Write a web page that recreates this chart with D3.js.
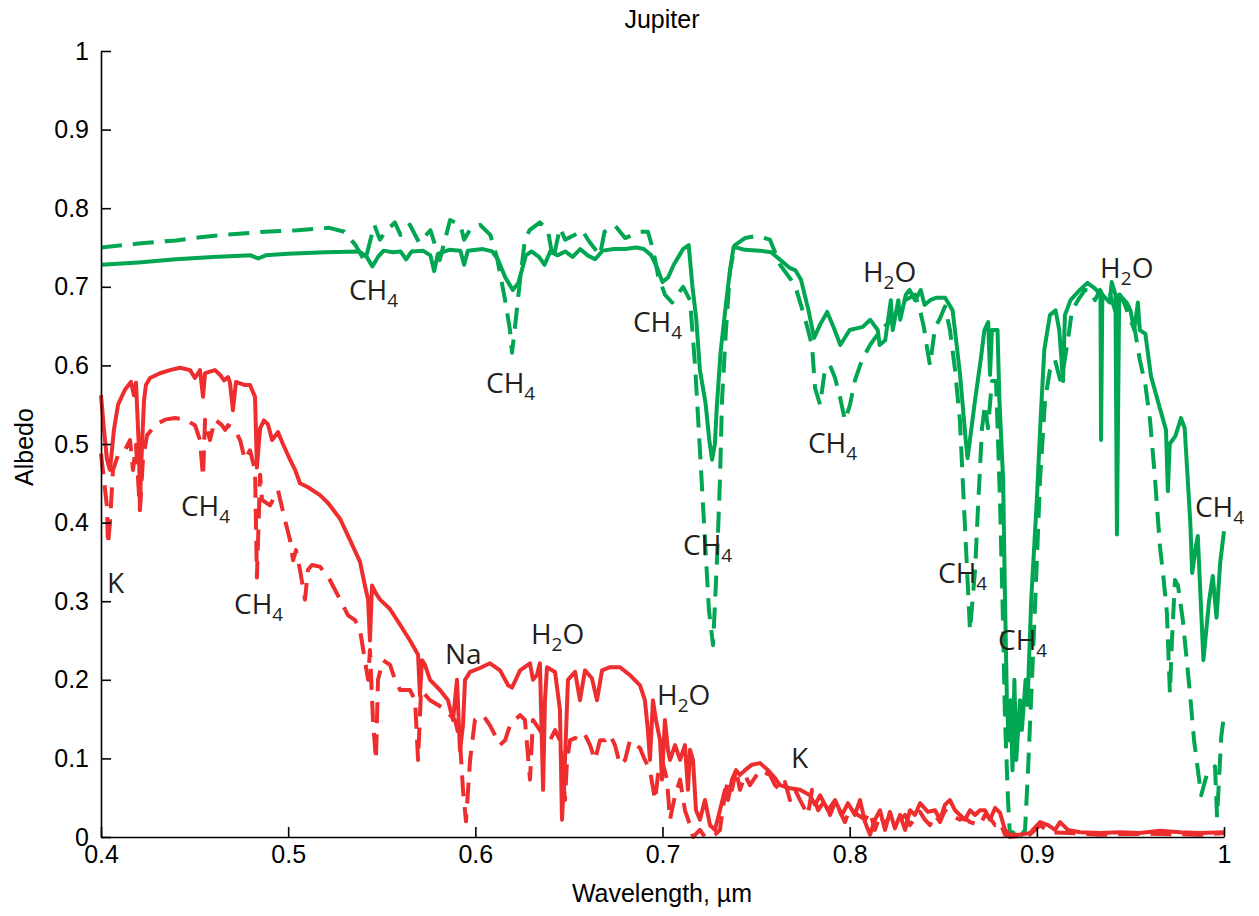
<!DOCTYPE html>
<html><head><meta charset="utf-8">
<script src="https://cdn.jsdelivr.net/npm/d3@7"></script>
<style>body{margin:0;background:#fff}svg{display:block}</style>
</head><body><svg id="c" width="1259" height="916"></svg>
<script>
const xTicks=[0.4,0.5,0.6,0.7,0.8,0.9,1.0];
const yTicks=[0,0.1,0.2,0.3,0.4,0.5,0.6,0.7,0.8,0.9,1];
const greenSolid=[[0.400,0.728],[0.420,0.731],[0.440,0.735],[0.460,0.738],[0.480,0.740],[0.484,0.736],[0.488,0.740],[0.500,0.742],[0.520,0.744],[0.538,0.745],[0.542,0.738],[0.545,0.726],[0.548,0.738],[0.551,0.746],[0.556,0.744],[0.560,0.745],[0.563,0.735],[0.566,0.745],[0.572,0.746],[0.576,0.740],[0.578,0.720],[0.580,0.742],[0.586,0.747],[0.592,0.746],[0.594,0.728],[0.596,0.746],[0.604,0.748],[0.609,0.745],[0.612,0.735],[0.616,0.712],[0.620,0.696],[0.623,0.705],[0.627,0.740],[0.630,0.745],[0.634,0.738],[0.637,0.728],[0.640,0.745],[0.644,0.740],[0.648,0.745],[0.652,0.738],[0.656,0.748],[0.660,0.740],[0.664,0.735],[0.668,0.746],[0.674,0.748],[0.680,0.748],[0.686,0.750],[0.690,0.748],[0.694,0.740],[0.697,0.725],[0.700,0.706],[0.703,0.712],[0.706,0.728],[0.709,0.740],[0.711,0.748],[0.714,0.753],[0.716,0.700],[0.718,0.660],[0.720,0.594],[0.723,0.552],[0.725,0.505],[0.7265,0.480],[0.728,0.500],[0.729,0.547],[0.731,0.616],[0.734,0.680],[0.736,0.720],[0.738,0.751],[0.744,0.747],[0.752,0.746],[0.758,0.744],[0.763,0.734],[0.768,0.724],[0.771,0.721],[0.774,0.709],[0.778,0.670],[0.781,0.635],[0.784,0.651],[0.788,0.668],[0.792,0.645],[0.795,0.626],[0.800,0.645],[0.807,0.649],[0.811,0.658],[0.815,0.645],[0.816,0.626],[0.819,0.632],[0.822,0.683],[0.823,0.645],[0.826,0.683],[0.827,0.658],[0.830,0.690],[0.832,0.696],[0.835,0.683],[0.838,0.696],[0.840,0.677],[0.843,0.683],[0.846,0.686],[0.851,0.686],[0.855,0.670],[0.859,0.588],[0.862,0.505],[0.863,0.482],[0.867,0.556],[0.870,0.607],[0.872,0.645],[0.874,0.655],[0.875,0.588],[0.876,0.645],[0.879,0.645],[0.880,0.556],[0.882,0.454],[0.883,0.302],[0.884,0.174],[0.885,0.123],[0.886,0.174],[0.887,0.085],[0.888,0.200],[0.889,0.098],[0.891,0.174],[0.892,0.136],[0.894,0.200],[0.895,0.168],[0.897,0.302],[0.900,0.429],[0.902,0.531],[0.904,0.620],[0.907,0.664],[0.910,0.670],[0.912,0.645],[0.914,0.580],[0.915,0.664],[0.918,0.683],[0.923,0.696],[0.927,0.705],[0.931,0.698],[0.934,0.690],[0.9343,0.505],[0.935,0.690],[0.939,0.680],[0.940,0.706],[0.942,0.690],[0.9428,0.385],[0.944,0.690],[0.948,0.680],[0.950,0.670],[0.952,0.645],[0.954,0.680],[0.955,0.645],[0.958,0.640],[0.961,0.586],[0.9658,0.545],[0.969,0.518],[0.970,0.440],[0.971,0.500],[0.974,0.510],[0.976,0.525],[0.977,0.533],[0.979,0.520],[0.982,0.400],[0.983,0.336],[0.985,0.370],[0.986,0.383],[0.989,0.225],[0.992,0.300],[0.994,0.332],[0.996,0.279],[0.998,0.350],[1.000,0.389]];
const greenDashed=[[0.400,0.750],[0.420,0.755],[0.440,0.759],[0.453,0.763],[0.470,0.767],[0.4875,0.770],[0.505,0.772],[0.522,0.775],[0.530,0.770],[0.536,0.753],[0.541,0.732],[0.544,0.760],[0.546,0.779],[0.549,0.760],[0.552,0.770],[0.557,0.782],[0.560,0.766],[0.565,0.779],[0.570,0.756],[0.576,0.772],[0.581,0.734],[0.5865,0.785],[0.592,0.779],[0.594,0.760],[0.597,0.772],[0.6025,0.779],[0.608,0.766],[0.6116,0.737],[0.6159,0.683],[0.6185,0.645],[0.6196,0.616],[0.6217,0.660],[0.6239,0.709],[0.6265,0.760],[0.629,0.772],[0.6345,0.782],[0.6388,0.772],[0.6415,0.734],[0.6452,0.775],[0.648,0.760],[0.653,0.766],[0.657,0.772],[0.661,0.757],[0.6666,0.740],[0.669,0.770],[0.6746,0.778],[0.680,0.762],[0.684,0.766],[0.688,0.770],[0.6922,0.770],[0.695,0.747],[0.6976,0.715],[0.7013,0.690],[0.7051,0.680],[0.708,0.690],[0.711,0.700],[0.7147,0.683],[0.7174,0.600],[0.720,0.492],[0.7227,0.378],[0.7248,0.289],[0.7270,0.244],[0.7291,0.352],[0.7307,0.454],[0.7318,0.556],[0.7339,0.645],[0.7361,0.721],[0.7387,0.753],[0.7441,0.762],[0.7505,0.765],[0.7574,0.760],[0.7628,0.728],[0.7708,0.702],[0.7761,0.660],[0.7799,0.625],[0.7815,0.571],[0.7842,0.550],[0.7868,0.595],[0.7895,0.600],[0.7922,0.584],[0.7948,0.560],[0.7975,0.530],[0.8002,0.550],[0.8028,0.581],[0.8066,0.607],[0.8109,0.626],[0.8151,0.640],[0.8189,0.650],[0.8215,0.655],[0.8258,0.670],[0.8296,0.683],[0.8349,0.690],[0.8376,0.670],[0.8397,0.648],[0.8408,0.630],[0.8429,0.600],[0.8456,0.648],[0.8483,0.660],[0.8509,0.675],[0.8536,0.645],[0.8563,0.594],[0.8589,0.530],[0.8605,0.450],[0.8621,0.370],[0.8643,0.263],[0.867,0.340],[0.8686,0.420],[0.8707,0.520],[0.8723,0.550],[0.8739,0.520],[0.8760,0.580],[0.8782,0.580],[0.8803,0.429],[0.8819,0.276],[0.8830,0.149],[0.8846,0.047],[0.8857,0.0],[0.8883,0.009],[0.8910,0.0],[0.8937,0.009],[0.8953,0.085],[0.8974,0.200],[0.8996,0.327],[0.9017,0.454],[0.9044,0.556],[0.9070,0.594],[0.9097,0.607],[0.9124,0.582],[0.9140,0.594],[0.9166,0.632],[0.9188,0.670],[0.922,0.683],[0.9257,0.696],[0.9284,0.696],[0.9311,0.683],[0.9338,0.696],[0.9364,0.683],[0.9391,0.690],[0.9418,0.670],[0.9444,0.690],[0.9471,0.677],[0.9498,0.658],[0.9524,0.645],[0.955,0.607],[0.958,0.575],[0.9605,0.530],[0.963,0.460],[0.9658,0.369],[0.9674,0.336],[0.9695,0.285],[0.9711,0.183],[0.9722,0.250],[0.9738,0.327],[0.9754,0.320],[0.978,0.276],[0.9818,0.183],[0.984,0.123],[0.9878,0.053],[0.991,0.081],[0.9952,0.090],[0.9963,0.025],[0.9985,0.127],[1.0,0.155]];
const redSolid=[[0.400,0.562],[0.4016,0.518],[0.4032,0.480],[0.4048,0.467],[0.4069,0.518],[0.4091,0.550],[0.4128,0.569],[0.4160,0.579],[0.4176,0.562],[0.4187,0.578],[0.4203,0.492],[0.4208,0.416],[0.4214,0.470],[0.4230,0.556],[0.4240,0.575],[0.4262,0.584],[0.4315,0.590],[0.4369,0.594],[0.4422,0.597],[0.4476,0.594],[0.4502,0.584],[0.4529,0.594],[0.4545,0.560],[0.4556,0.590],[0.4582,0.592],[0.4609,0.594],[0.4636,0.588],[0.4657,0.581],[0.4679,0.585],[0.4689,0.578],[0.4705,0.543],[0.4721,0.579],[0.4769,0.575],[0.4796,0.575],[0.4823,0.560],[0.4833,0.470],[0.4850,0.520],[0.4871,0.530],[0.4892,0.525],[0.4914,0.505],[0.4946,0.515],[0.4972,0.500],[0.5010,0.480],[0.5037,0.467],[0.5063,0.450],[0.5106,0.445],[0.5170,0.435],[0.5213,0.425],[0.5277,0.405],[0.5330,0.378],[0.5384,0.350],[0.5410,0.320],[0.5427,0.302],[0.5437,0.250],[0.5448,0.320],[0.5469,0.310],[0.5491,0.302],[0.5544,0.290],[0.5598,0.270],[0.5651,0.250],[0.5694,0.232],[0.5704,0.180],[0.5715,0.225],[0.5731,0.219],[0.5758,0.200],[0.5811,0.187],[0.5854,0.174],[0.5881,0.149],[0.5902,0.200],[0.5918,0.110],[0.5934,0.142],[0.5945,0.200],[0.5972,0.210],[0.6025,0.215],[0.6078,0.221],[0.6132,0.212],[0.6175,0.193],[0.6196,0.190],[0.6239,0.212],[0.6292,0.221],[0.6308,0.200],[0.6329,0.206],[0.6345,0.221],[0.6362,0.060],[0.6372,0.174],[0.6383,0.216],[0.6426,0.210],[0.6452,0.162],[0.6463,0.022],[0.6479,0.098],[0.6495,0.200],[0.6533,0.210],[0.6559,0.174],[0.6586,0.212],[0.6623,0.202],[0.6650,0.174],[0.6677,0.212],[0.6720,0.216],[0.6773,0.216],[0.6826,0.206],[0.6880,0.193],[0.6906,0.174],[0.6922,0.136],[0.6933,0.098],[0.6949,0.174],[0.6965,0.149],[0.6987,0.123],[0.6997,0.073],[0.7013,0.149],[0.7029,0.111],[0.7040,0.098],[0.7067,0.117],[0.7094,0.098],[0.7120,0.117],[0.7136,0.060],[0.7147,0.111],[0.7163,0.098],[0.7179,0.034],[0.7200,0.022],[0.7227,0.047],[0.7254,0.015],[0.7280,0.009],[0.7307,0.034],[0.7334,0.060],[0.7350,0.047],[0.7371,0.073],[0.7393,0.085],[0.7414,0.079],[0.7441,0.085],[0.7478,0.092],[0.7521,0.094],[0.7564,0.085],[0.7601,0.075],[0.7628,0.066],[0.7681,0.062],[0.7735,0.060],[0.7788,0.053],[0.7815,0.041],[0.7842,0.053],[0.7884,0.034],[0.7922,0.047],[0.7959,0.028],[0.7991,0.043],[0.8028,0.028],[0.8055,0.047],[0.8082,0.019],[0.8109,0.003],[0.8135,0.022],[0.8162,0.034],[0.8189,0.009],[0.8215,0.032],[0.8242,0.011],[0.8269,0.028],[0.8296,0.009],[0.8322,0.034],[0.8349,0.028],[0.8376,0.043],[0.8418,0.032],[0.8456,0.034],[0.8483,0.022],[0.8509,0.041],[0.8536,0.047],[0.8563,0.034],[0.8589,0.028],[0.8616,0.022],[0.8643,0.034],[0.8670,0.028],[0.8696,0.034],[0.8723,0.034],[0.8750,0.022],[0.8777,0.037],[0.8803,0.031],[0.8830,0.009],[0.8857,0.003],[0.8910,0.003],[0.8963,0.005],[0.9017,0.019],[0.9060,0.015],[0.9097,0.009],[0.9124,0.019],[0.9166,0.009],[0.9231,0.006],[0.9338,0.005],[0.9444,0.006],[0.9551,0.005],[0.9658,0.008],[0.9765,0.006],[0.9872,0.005],[1.0,0.006]];
const redDashed=[[0.400,0.488],[0.4032,0.420],[0.4037,0.372],[0.4048,0.400],[0.4064,0.467],[0.4091,0.486],[0.4128,0.492],[0.4155,0.505],[0.4171,0.467],[0.4187,0.499],[0.4208,0.416],[0.4224,0.480],[0.4246,0.511],[0.4289,0.524],[0.4342,0.531],[0.4395,0.533],[0.4449,0.531],[0.4502,0.524],[0.4529,0.505],[0.4545,0.458],[0.4556,0.531],[0.4582,0.505],[0.4609,0.531],[0.4646,0.524],[0.4663,0.518],[0.4679,0.524],[0.4716,0.518],[0.4743,0.505],[0.4769,0.480],[0.4796,0.492],[0.4823,0.467],[0.4833,0.330],[0.4850,0.461],[0.4860,0.429],[0.4903,0.422],[0.4946,0.441],[0.4983,0.403],[0.5010,0.378],[0.5026,0.352],[0.5042,0.365],[0.5063,0.340],[0.5090,0.302],[0.5106,0.340],[0.5127,0.346],[0.5170,0.344],[0.5223,0.327],[0.5277,0.302],[0.5320,0.282],[0.5357,0.276],[0.5384,0.263],[0.5410,0.225],[0.5427,0.200],[0.5437,0.238],[0.5453,0.149],[0.5469,0.098],[0.5480,0.200],[0.5507,0.225],[0.5544,0.219],[0.5571,0.200],[0.5598,0.187],[0.5651,0.187],[0.5678,0.174],[0.5694,0.098],[0.5710,0.187],[0.5758,0.174],[0.5801,0.168],[0.5838,0.162],[0.5865,0.155],[0.5891,0.149],[0.5918,0.123],[0.5934,0.060],[0.5950,0.020],[0.5972,0.098],[0.5998,0.149],[0.6041,0.155],[0.6078,0.142],[0.6132,0.117],[0.6159,0.123],[0.6185,0.142],[0.6212,0.149],[0.6239,0.155],[0.6265,0.149],[0.6292,0.073],[0.6308,0.149],[0.6345,0.136],[0.6372,0.126],[0.6399,0.123],[0.6426,0.136],[0.6452,0.123],[0.6479,0.047],[0.6490,0.098],[0.6506,0.123],[0.6533,0.126],[0.6559,0.123],[0.6586,0.130],[0.6613,0.117],[0.6639,0.098],[0.6666,0.123],[0.6693,0.123],[0.6720,0.130],[0.6746,0.117],[0.6773,0.092],[0.6800,0.098],[0.6826,0.123],[0.6880,0.113],[0.6906,0.098],[0.6933,0.085],[0.6960,0.047],[0.6976,0.079],[0.6997,0.098],[0.7024,0.073],[0.7040,0.022],[0.7067,0.053],[0.7094,0.073],[0.7120,0.034],[0.7147,0.015],[0.7163,0.0],[0.7200,0.009],[0.7227,0.0],[0.7254,0.0],[0.7280,0.003],[0.7307,0.009],[0.7329,0.047],[0.7350,0.073],[0.7371,0.060],[0.7393,0.085],[0.7414,0.060],[0.7441,0.079],[0.7467,0.066],[0.7521,0.085],[0.7574,0.079],[0.7601,0.066],[0.7628,0.060],[0.7654,0.070],[0.7681,0.047],[0.7708,0.060],[0.7735,0.047],[0.7777,0.028],[0.7799,0.060],[0.7831,0.034],[0.7868,0.047],[0.7895,0.028],[0.7927,0.047],[0.7948,0.032],[0.7975,0.019],[0.8002,0.037],[0.8044,0.028],[0.8082,0.022],[0.8109,0.032],[0.8135,0.009],[0.8162,0.028],[0.8189,0.015],[0.8215,0.028],[0.8269,0.022],[0.8296,0.028],[0.8322,0.015],[0.8349,0.024],[0.8376,0.032],[0.8402,0.022],[0.8429,0.015],[0.8456,0.028],[0.8483,0.019],[0.8509,0.034],[0.8536,0.028],[0.8589,0.022],[0.8616,0.024],[0.8643,0.019],[0.8696,0.015],[0.8723,0.028],[0.8750,0.024],[0.8777,0.015],[0.8803,0.019],[0.8830,0.003],[0.8857,0.0],[0.8963,0.003],[0.9017,0.015],[0.9070,0.006],[0.9177,0.005],[0.9338,0.003],[0.9605,0.004],[0.9872,0.003],[1.0,0.005]];
// annotations: [base text, subscript, tail, wavelength, albedo]
const labels=[["CH","4","",0.5325,0.683],["CH","4","",0.6057,0.565],["CH","4","",0.6842,0.6425],["H","2","O",0.8071,0.706],["CH","4","",0.7777,0.4885],["H","2","O",0.9338,0.711],["CH","4","",0.9845,0.407],["CH","4","",0.711,0.359],["CH","4","",0.8472,0.323],["CH","4","",0.8793,0.238],["K","","",0.4032,0.310],["CH","4","",0.4427,0.408],["CH","4","",0.4711,0.284],["Na","","",0.5838,0.220],["H","2","O",0.6297,0.2455],["H","2","O",0.6971,0.168],["K","","",0.7687,0.088]];

const svg=d3.select("#c");
const x=d3.scaleLinear().domain([0.4,1.0]).range([101,1224]);
const y=d3.scaleLinear().domain([0,1]).range([837,51]);
const GREEN="#00A651", RED="#ED2D2E";
const line=d3.line().x(d=>x(d[0])).y(d=>y(d[1]));

function draw(data,color,dashed){
  svg.append("path").datum(data).attr("d",line).attr("fill","none")
    .attr("stroke",color).attr("stroke-width",4).attr("stroke-linejoin","round")
    .attr("stroke-dasharray",dashed?"21,11":null);
}
draw(greenDashed,GREEN,true);
draw(greenSolid,GREEN,false);
draw(redDashed,RED,true);
draw(redSolid,RED,false);

const AXF="Liberation Sans, Arial, sans-serif";
const fmt=d=>d===0?"0":(d===1?"1":d3.format(".1f")(d));
const ax=svg.append("g").attr("transform","translate(0,837)")
  .call(d3.axisBottom(x).tickValues(xTicks).tickSize(-10).tickPadding(8).tickFormat(fmt).tickSizeOuter(0));
const ay=svg.append("g").attr("transform","translate(101,0)")
  .call(d3.axisLeft(y).tickValues(yTicks).tickSize(-10).tickPadding(12).tickFormat(fmt).tickSizeOuter(0));
[ax,ay].forEach(g=>{
  g.selectAll("path,line").attr("stroke","#000").attr("stroke-width",1.6);
  g.selectAll("text").attr("font-family",AXF).attr("font-size",25).attr("fill","#000");
});

svg.append("text").attr("x",662).attr("y",28).attr("text-anchor","middle")
  .attr("font-family",AXF).attr("font-size",25).text("Jupiter");
svg.append("text").attr("x",662).attr("y",902).attr("text-anchor","middle")
  .attr("font-family",AXF).attr("font-size",25).text("Wavelength, µm");
svg.append("text").attr("transform","translate(33,447) rotate(-90)").attr("text-anchor","middle")
  .attr("font-family",AXF).attr("font-size",25).text("Albedo");

const lg=svg.append("g").attr("font-family","Open Sans, Noto Sans, sans-serif").attr("font-size",28).attr("fill","#231f20");
labels.forEach(l=>{
  const t=lg.append("text").attr("x",x(l[3])).attr("y",y(l[4]));
  t.append("tspan").text(l[0]);
  if(l[1]) t.append("tspan").attr("font-size",19).attr("dy",7).text(l[1]);
  if(l[2]) t.append("tspan").attr("dy",-7).text(l[2]);
});
</script></body></html>
